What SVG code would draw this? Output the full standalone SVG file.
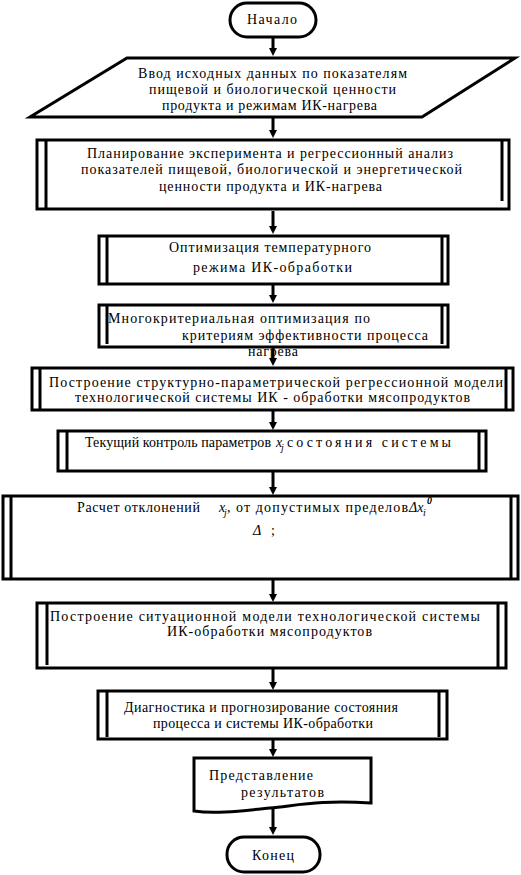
<svg xmlns="http://www.w3.org/2000/svg" width="521" height="875" viewBox="0 0 521 875">
<defs>
<style>
.s{fill:#fff;stroke:#000;stroke-width:3}
.il{stroke:#000;stroke-width:3}
.c{stroke:#000;stroke-width:3;fill:none}
text{font-family:"Liberation Serif","Times New Roman",serif;font-size:14px;fill:#000}
.it{font-style:italic}
.sub{font-size:10px;font-style:italic}
</style>
<marker id="ah" markerUnits="userSpaceOnUse" markerWidth="10" markerHeight="10" refX="3" refY="4" orient="auto">
<path d="M0,0 L8,4 L0,8 z" fill="#000"/>
</marker>
</defs>
<rect width="521" height="875" fill="#fff"/>
<g id="connectors">
<line class="c" x1="273" y1="37" x2="273" y2="51" marker-end="url(#ah)"/>
<line class="c" x1="273" y1="118" x2="273" y2="133" marker-end="url(#ah)"/>
<line class="c" x1="273" y1="211" x2="273" y2="229" marker-end="url(#ah)"/>
<line class="c" x1="273" y1="285" x2="273" y2="298" marker-end="url(#ah)"/>
<line class="c" x1="273" y1="348" x2="273" y2="361" marker-end="url(#ah)"/>
<line class="c" x1="273" y1="411" x2="273" y2="425" marker-end="url(#ah)"/>
<line class="c" x1="273" y1="472" x2="273" y2="490" marker-end="url(#ah)"/>
<line class="c" x1="273" y1="580" x2="273" y2="597" marker-end="url(#ah)"/>
<line class="c" x1="273" y1="669" x2="273" y2="685" marker-end="url(#ah)"/>
<line class="c" x1="273" y1="740" x2="273" y2="752" marker-end="url(#ah)"/>
<line class="c" x1="273" y1="808" x2="273" y2="830" marker-end="url(#ah)"/>
</g>
<g id="start">
<rect class="s" x="230" y="3" width="86" height="34" rx="17" ry="17"/>
<text x="247" y="24" textLength="50" lengthAdjust="spacing">Начало</text>
</g>
<g id="input">
<polygon class="s" points="127,58 515,58 422,117 30,117"/>
<text x="138" y="78" textLength="269" lengthAdjust="spacing">Ввод исходных данных по показателям</text>
<text x="149" y="94" textLength="247" lengthAdjust="spacing">пищевой и биологической ценности</text>
<text x="162" y="110" textLength="215" lengthAdjust="spacing">продукта и режимам ИК-нагрева</text>
</g>
<g id="planning">
<rect class="s" x="37" y="140" width="472" height="69"/>
<line class="il" x1="46" y1="140" x2="46" y2="209"/>
<line class="il" x1="502" y1="140" x2="502" y2="201"/>
<text x="87" y="158" textLength="366" lengthAdjust="spacing">Планирование эксперимента и регрессионный анализ</text>
<text x="81" y="174" textLength="381" lengthAdjust="spacing">показателей пищевой, биологической и энергетической</text>
<text x="159" y="191" textLength="223" lengthAdjust="spacing">ценности продукта и ИК-нагрева</text>
</g>
<g id="optim-temp">
<rect class="s" x="99" y="236" width="349" height="48"/>
<line class="il" x1="107" y1="236" x2="107" y2="284"/>
<line class="il" x1="442" y1="236" x2="442" y2="284"/>
<text x="169" y="252" textLength="202" lengthAdjust="spacing">Оптимизация температурного</text>
<text x="193" y="272" textLength="159" lengthAdjust="spacing">режима  ИК-обработки</text>
</g>
<g id="multicrit">
<rect class="s" x="99" y="305" width="349" height="42"/>
<line class="il" x1="107" y1="305" x2="107" y2="344"/>
<line class="il" x1="442" y1="305" x2="442" y2="344"/>
<text x="108" y="323" textLength="262" lengthAdjust="spacing">Многокритериальная  оптимизация по</text>
<text x="182" y="340" textLength="246" lengthAdjust="spacing">критериям эффективности процесса</text>
<text x="248" y="356" textLength="50" lengthAdjust="spacing">нагрева</text>
</g>
<g id="struct-model">
<rect class="s" x="32" y="368" width="481" height="42"/>
<line class="il" x1="40" y1="368" x2="40" y2="410"/>
<line class="il" x1="506" y1="368" x2="506" y2="410"/>
<text x="49" y="387" textLength="454" lengthAdjust="spacing">Построение структурно-параметрической регрессионной модели</text>
<text x="75" y="402" textLength="395" lengthAdjust="spacing">технологической системы ИК - обработки мясопродуктов</text>
</g>
<g id="monitor">
<rect class="s" x="58" y="431" width="428" height="40"/>
<line class="il" x1="67" y1="431" x2="67" y2="471"/>
<line class="il" x1="479" y1="431" x2="479" y2="471"/>
<text x="85" y="447" textLength="186" lengthAdjust="spacing">Текущий контроль параметров</text>
<text x="276" y="447" class="it">x</text>
<text x="281" y="451" class="sub">j</text>
<text x="287" y="447" textLength="164" lengthAdjust="spacing">состояния системы</text>
</g>
<g id="deviation">
<rect class="s" x="3" y="496" width="515" height="83"/>
<line class="il" x1="11" y1="496" x2="11" y2="579"/>
<line class="il" x1="511" y1="496" x2="511" y2="579"/>
<text x="77" y="512" textLength="123" lengthAdjust="spacing">Расчет отклонений</text>
<text x="219" y="512" class="it">x</text>
<text x="224" y="516" class="sub">j</text>
<text x="227" y="512">,</text>
<text x="236" y="512" textLength="172" lengthAdjust="spacing">от допустимых  пределов</text>
<text x="409" y="512" class="it">Δx</text>
<text x="423" y="516" class="sub">i</text>
<text x="427" y="504" class="sub" font-weight="bold">0</text>
<text x="253" y="535" class="it">Δ</text>
<text x="271" y="535">;</text>
</g>
<g id="situation">
<rect class="s" x="37" y="603" width="469" height="65"/>
<line class="il" x1="47" y1="603" x2="47" y2="665"/>
<line class="il" x1="498" y1="603" x2="498" y2="668"/>
<text x="50" y="621" textLength="430" lengthAdjust="spacing">Построение ситуационной модели технологической системы</text>
<text x="167" y="636" textLength="205" lengthAdjust="spacing">ИК-обработки мясопродуктов</text>
</g>
<g id="diagnostics">
<rect class="s" x="98" y="691" width="349" height="48"/>
<line class="il" x1="107" y1="691" x2="107" y2="737"/>
<line class="il" x1="439" y1="691" x2="439" y2="737"/>
<text x="124" y="712" textLength="274" lengthAdjust="spacing">Диагностика и прогнозирование состояния</text>
<text x="153" y="728" textLength="220" lengthAdjust="spacing">процесса и системы ИК-обработки</text>
</g>
<g id="results">
<path class="s" d="M194,758 L371,758 L371,803 C320,800 300,805 270,808 C240,811 215,814 194,811 Z"/>
<text x="209" y="780" textLength="104" lengthAdjust="spacing">Представление</text>
<text x="241" y="797" textLength="83" lengthAdjust="spacing">результатов</text>
</g>
<g id="end">
<rect class="s" x="227" y="837" width="93" height="35" rx="17" ry="17"/>
<text x="252" y="860" textLength="42" lengthAdjust="spacing">Конец</text>
</g>
</svg>
